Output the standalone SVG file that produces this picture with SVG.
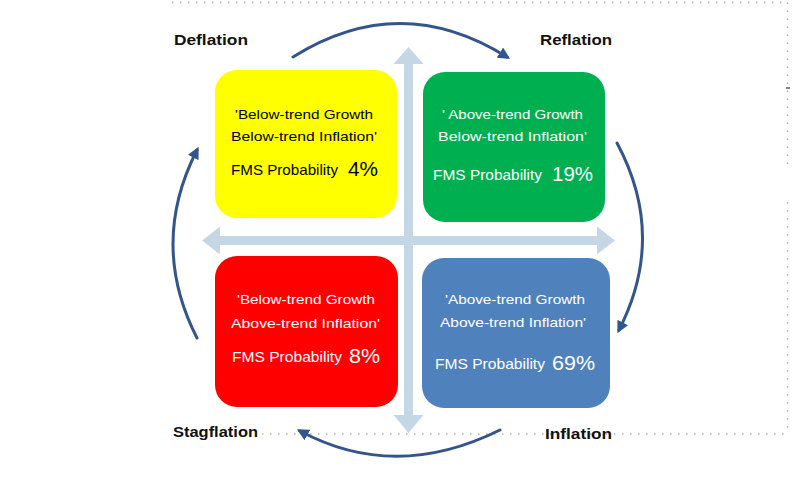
<svg xmlns="http://www.w3.org/2000/svg" width="792" height="480" viewBox="0 0 792 480">
<defs>
<style>
.dot{stroke:#b4b4b4;stroke-width:1.5;stroke-dasharray:1.5 6.5;fill:none}
.lbl{font-family:"Liberation Sans",Arial,sans-serif;font-weight:bold;font-size:14px;fill:#111}
.t{font-family:"Liberation Sans",Arial,sans-serif;font-size:13px}
.f{font-family:"Liberation Sans",Arial,sans-serif;font-size:15px}
.p{font-family:"Liberation Sans",Arial,sans-serif;font-size:20px}
.wt{fill:#ffffff}
.bk{fill:#000000}
.arc{fill:none;stroke:#34558b;stroke-width:3;stroke-linecap:round}
</style>
<marker id="ah" viewBox="0 0 10 10" refX="7" refY="5" markerWidth="4" markerHeight="4" orient="auto" markerUnits="strokeWidth">
<path d="M0,0 L10,5 L0,10 Z" fill="#34558b"/>
</marker>
</defs>
<rect width="792" height="480" fill="#ffffff"/>
<g id="frame">
<line class="dot" x1="172" y1="2.5" x2="788" y2="2.5"/>
<line class="dot" x1="787.5" y1="2.5" x2="787.5" y2="170"/>
<line class="dot" x1="787.5" y1="202" x2="787.5" y2="434"/>
<line class="dot" x1="262" y1="434" x2="788" y2="434"/>
<line x1="786" y1="88" x2="790" y2="88" stroke="#555" stroke-width="1.5"/>
</g>
<g id="connectors">
<path d="M404,64 L393.5,64 L408.5,47 L423.5,64 L413,64 L413,236 L597,236 L597,226.5 L615,240.5 L597,254.5 L597,245 L413,245 L413,415 L423.5,415 L408.5,433 L393.5,415 L404,415 L404,245 L220,245 L220,254.5 L202,240.5 L220,226.5 L220,236 L404,236 Z" fill="#c5d7e4"/>
<path class="arc" d="M293,57 Q400,-10 507,57" marker-end="url(#ah)"/>
<path class="arc" d="M617,143 Q667,236 619,330" marker-end="url(#ah)"/>
<path class="arc" d="M500,430 Q395,482 300,431" marker-end="url(#ah)"/>
<path class="arc" d="M197,338 Q149,244 197,150" marker-end="url(#ah)"/>
</g>
<g id="deflation">
<text class="lbl" x="174" y="45" textLength="74" lengthAdjust="spacingAndGlyphs">Deflation</text>
</g>
<g id="reflation">
<text class="lbl" x="540" y="45" textLength="72" lengthAdjust="spacingAndGlyphs">Reflation</text>
</g>
<g id="stagflation">
<text class="lbl" x="173" y="437" textLength="85" lengthAdjust="spacingAndGlyphs">Stagflation</text>
</g>
<g id="inflation">
<text class="lbl" x="545" y="439" textLength="67" lengthAdjust="spacingAndGlyphs">Inflation</text>
</g>
<g id="box-yellow">
<rect x="215" y="70" width="182" height="148" rx="22" fill="#ffff00"/>
<text class="t bk" x="235" y="119" textLength="138" lengthAdjust="spacingAndGlyphs">'Below-trend Growth</text>
<text class="t bk" x="231" y="141" textLength="146" lengthAdjust="spacingAndGlyphs">Below-trend Inflation'</text>
<text class="f bk" x="231" y="175" textLength="107" lengthAdjust="spacingAndGlyphs">FMS Probability</text>
<text class="p bk" x="348" y="176" textLength="30" lengthAdjust="spacingAndGlyphs">4%</text>
</g>
<g id="box-green">
<rect x="423" y="72" width="182" height="150" rx="22" fill="#00b050"/>
<text class="t wt" x="442" y="119" textLength="141" lengthAdjust="spacingAndGlyphs">' Above-trend Growth</text>
<text class="t wt" x="438" y="141" textLength="149" lengthAdjust="spacingAndGlyphs">Below-trend Inflation'</text>
<text class="f wt" x="433" y="180" textLength="109" lengthAdjust="spacingAndGlyphs">FMS Probability</text>
<text class="p wt" x="552" y="181" textLength="41" lengthAdjust="spacingAndGlyphs">19%</text>
</g>
<g id="box-red">
<rect x="215" y="256" width="183" height="151" rx="22" fill="#ff0000"/>
<text class="t wt" x="237" y="304" textLength="138" lengthAdjust="spacingAndGlyphs">'Below-trend Growth</text>
<text class="t wt" x="231" y="328" textLength="149" lengthAdjust="spacingAndGlyphs">Above-trend Inflation'</text>
<text class="f wt" x="232" y="362" textLength="110" lengthAdjust="spacingAndGlyphs">FMS Probability</text>
<text class="p wt" x="349" y="363" textLength="31" lengthAdjust="spacingAndGlyphs">8%</text>
</g>
<g id="box-blue">
<rect x="422" y="258" width="188" height="150" rx="22" fill="#4f81bd"/>
<text class="t wt" x="445" y="304" textLength="140" lengthAdjust="spacingAndGlyphs">'Above-trend Growth</text>
<text class="t wt" x="440" y="327" textLength="146" lengthAdjust="spacingAndGlyphs">Above-trend Inflation'</text>
<text class="f wt" x="435" y="369" textLength="110" lengthAdjust="spacingAndGlyphs">FMS Probability</text>
<text class="p wt" x="552" y="370" textLength="43" lengthAdjust="spacingAndGlyphs">69%</text>
</g>
</svg>
